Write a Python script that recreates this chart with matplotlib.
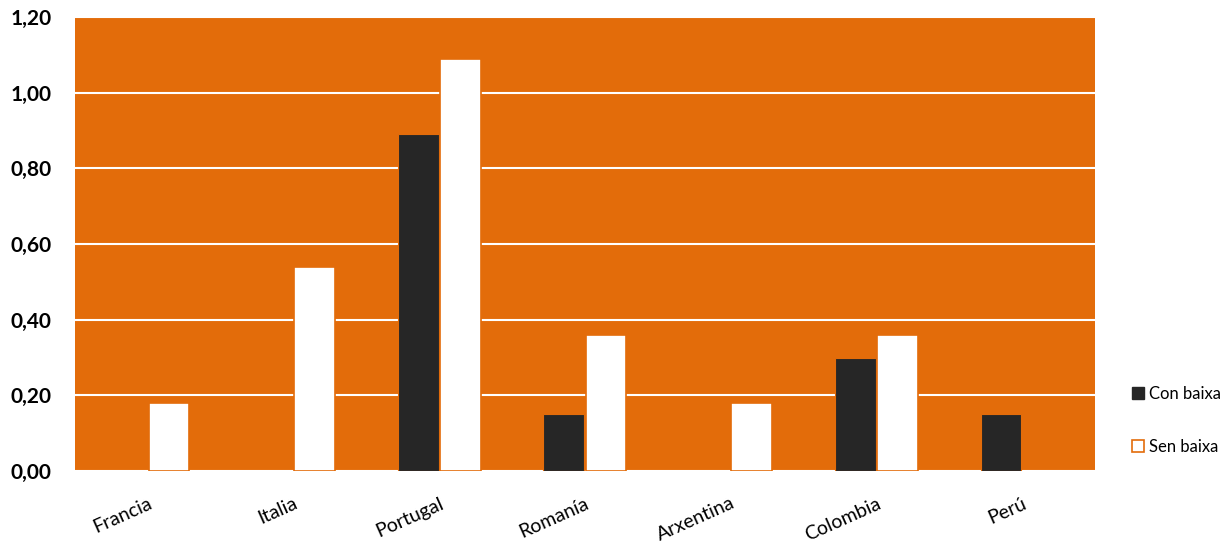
import matplotlib.pyplot as plt
import numpy as np
from matplotlib.patches import Patch

# -----------------------------
# Data
# -----------------------------
countries = ["Francia", "Italia", "Portugal", "Romanía", "Arxentina", "Colombia", "Perú"]
con_baixa = [0.00, 0.00, 0.89, 0.15, 0.00, 0.30, 0.15]
sen_baixa = [0.18, 0.54, 1.09, 0.36, 0.18, 0.36, 0.00]
yticks = [0.0, 0.2, 0.4, 0.6, 0.8, 1.0, 1.2]
ytick_labels = ["0,00", "0,20", "0,40", "0,60", "0,80", "1,00", "1,20"]

orange = "#E36C0A"
dark = "#262626"

plt.rcParams["font.family"] = ["Lato", "DejaVu Sans"]

fig = plt.figure(figsize=(12.22, 5.51), dpi=100)
ax = fig.add_axes([0.0614, 0.145, 0.8346, 0.824])
ax.set_facecolor(orange)

x = np.arange(len(countries))
w = 0.28
con_vals = np.array(con_baixa)
sen_vals = np.array(sen_baixa)
ax.bar(x[con_vals > 0] - w / 2 - 0.005, con_vals[con_vals > 0], width=w,
       color=dark, edgecolor=orange, linewidth=0.8, zorder=3, label="Con baixa")
ax.bar(x[sen_vals > 0] + w / 2 + 0.005, sen_vals[sen_vals > 0], width=w,
       color="white", edgecolor=orange, linewidth=1.2, zorder=3, label="Sen baixa")

ax.set_xlim(-0.5, len(countries) - 0.5)
ax.set_ylim(0, 1.2)
ax.set_yticks(yticks)
ax.set_yticklabels(ytick_labels, fontsize=15, fontweight="bold")
ax.grid(axis="y", color="white", linewidth=1.5, zorder=1)
ax.set_axisbelow(True)
ax.tick_params(axis="both", length=0)
ax.tick_params(axis="y", pad=17)

ax.set_xticks(x)
ax.set_xticklabels(countries, fontsize=14, rotation=24, ha="right",
                   rotation_mode="anchor")
ax.tick_params(axis="x", pad=17)

for s in ax.spines.values():
    s.set_visible(False)

# legend outside on the right
handles = [Patch(facecolor=dark, edgecolor=dark),
           Patch(facecolor="white", edgecolor=orange, linewidth=1.2)]
fig.legend(handles, ["Con baixa", "Sen baixa"], loc="center left",
           bbox_to_anchor=(0.914, 0.237), frameon=False, fontsize=12,
           handlelength=0.7, handleheight=0.7, handletextpad=0.3,
           labelspacing=2.2)

fig.savefig("out.png", dpi=100)
